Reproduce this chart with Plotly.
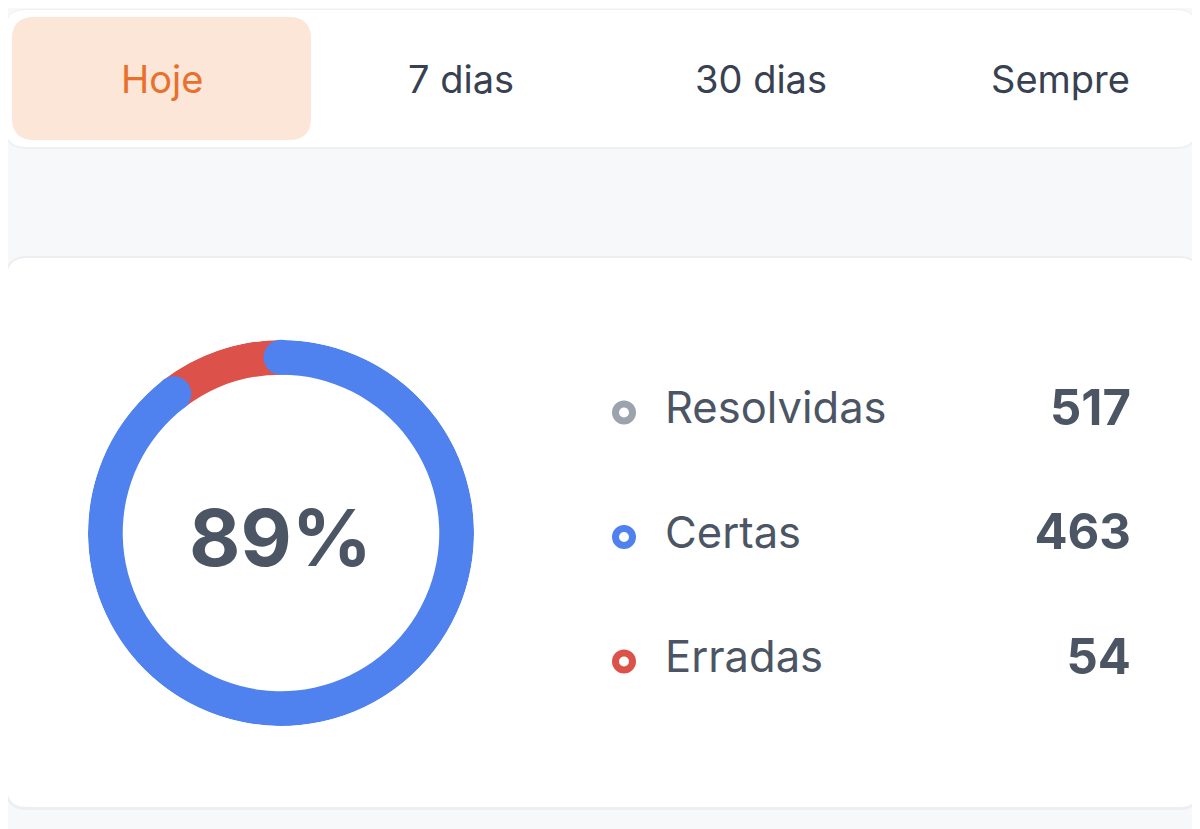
import math
import plotly.graph_objects as go

# page body has an 8px margin: the figure is drawn at (8, 8) in the window
OFF = 8
W, H = 1192, 821

# ---- data ----
tabs = ["Hoje", "7 dias", "30 dias", "Sempre"]
active_tab = "Hoje"
categories = ["Resolvidas", "Certas", "Erradas"]
counts = [517, 463, 54]
marker_colors = ["#9ca3af", "#4f82ee", "#dc514a"]

total = counts[0]
correct = counts[1]
wrong = counts[2]
pct_label = f"{math.floor(correct * 100 / total)}%"

BG = "#f7f8fa"
TEXT = "#4b5563"
TAB_TEXT = "#374151"
BLUE = marker_colors[1]
RED = marker_colors[2]


def px(x):
    return (x - OFF) / W


def py(y):
    return 1 - (y - OFF) / H


def rrect(x0, y0, x1, y1, r):
    rx, ry = r / W, r / H
    X0, X1 = px(x0), px(x1)
    Y0, Y1 = py(y0), py(y1)
    return (f"M {X0+rx},{Y0} L {X1-rx},{Y0} Q {X1},{Y0} {X1},{Y0-ry} "
            f"L {X1},{Y1+ry} Q {X1},{Y1} {X1-rx},{Y1} L {X0+rx},{Y1} "
            f"Q {X0},{Y1} {X0},{Y1+ry} L {X0},{Y0-ry} Q {X0},{Y0} {X0+rx},{Y0} Z")


fig = go.Figure()

# ---- donut ring (polar) ----
hole = 0.82
ang_ok = 360 * correct / total
ang_wrong = 360 * wrong / total
fig.add_trace(go.Barpolar(
    r=[1 - hole], base=[hole], theta=[ang_ok + ang_wrong / 2], width=[ang_wrong],
    marker=dict(color=RED, line=dict(width=0)), showlegend=False, hoverinfo="skip"))
fig.add_trace(go.Barpolar(
    r=[1 - hole], base=[hole], theta=[ang_ok / 2], width=[ang_ok],
    marker=dict(color=BLUE, line=dict(width=0)), showlegend=False, hoverinfo="skip"))
fig.add_trace(go.Scatterpolar(
    r=[(1 + hole) / 2] * 2, theta=[0, ang_ok], mode="markers",
    marker=dict(size=35, color=BLUE, line=dict(width=0)),
    showlegend=False, hoverinfo="skip"))

# ---- legend rows (cartesian) ----
fig.add_trace(go.Scatter(
    x=[624] * 3, y=categories, mode="markers",
    marker=dict(size=17, color="white", line=dict(width=7, color=marker_colors)),
    showlegend=False, hoverinfo="skip"))
fig.add_trace(go.Scatter(
    x=[665] * 3, y=categories, mode="text", text=categories,
    textposition="middle right",
    textfont=dict(family="Inter", size=43.5, color=TEXT),
    showlegend=False, hoverinfo="skip"))
fig.add_trace(go.Scatter(
    x=[1131] * 3, y=categories, mode="text", text=[f"<b>{c}</b>" for c in counts],
    textposition="middle left",
    textfont=dict(family="Inter", size=49, color=TEXT),
    showlegend=False, hoverinfo="skip"))

shapes = []
shapes.append(dict(type="path", path=rrect(4, 9, 1198, 149, 22), xref="paper", yref="paper",
                   fillcolor="#eef0f3", line=dict(width=0), layer="below"))
shapes.append(dict(type="path", path=rrect(5, 10, 1197, 147, 21), xref="paper", yref="paper",
                   fillcolor="white", line=dict(width=0), layer="below"))
shapes.append(dict(type="path", path=rrect(5, 256, 1201, 810, 22), xref="paper", yref="paper",
                   fillcolor="#eceef2", line=dict(width=0), layer="below"))
shapes.append(dict(type="path", path=rrect(7, 258, 1199, 807, 20), xref="paper", yref="paper",
                   fillcolor="white", line=dict(width=0), layer="below"))

annotations = []
tab_x0, tab_w = 12, 299.5
for i, t in enumerate(tabs):
    cx = tab_x0 + tab_w * (i + 0.5)
    is_active = t == active_tab
    if is_active:
        shapes.append(dict(type="path", path=rrect(tab_x0 + tab_w * i, 17, tab_x0 + tab_w * i + 299, 140, 22),
                           xref="paper", yref="paper", fillcolor="#fbe6d7",
                           line=dict(width=0), layer="below"))
    annotations.append(dict(
        x=px(cx), y=py(79), xref="paper", yref="paper", text=t, showarrow=False,
        xanchor="center", yanchor="middle",
        font=dict(family="Inter", size=38, color="#e8702c" if is_active else TAB_TEXT)))

annotations.append(dict(
    x=px(280), y=py(537), xref="paper", yref="paper", text=f"<b>{pct_label}</b>",
    showarrow=False, xanchor="center", yanchor="middle",
    font=dict(family="Inter", size=79, color=TEXT)))

row_h = 124.5
row_c = 537
fig.update_layout(
    width=W, height=H,
    margin=dict(l=0, r=0, t=0, b=0),
    paper_bgcolor=BG, plot_bgcolor="rgba(0,0,0,0)",
    polar=dict(
        domain=dict(x=[px(88), px(474)], y=[py(726), py(340)]),
        bgcolor="rgba(0,0,0,0)",
        angularaxis=dict(rotation=90, direction="clockwise", visible=False),
        radialaxis=dict(range=[0, 1], visible=False),
    ),
    xaxis=dict(range=[OFF, W + OFF], domain=[0, 1], visible=False, fixedrange=True),
    yaxis=dict(type="category", categoryarray=categories, range=[2.5, -0.5],
               domain=[py(row_c + 1.5 * row_h), py(row_c - 1.5 * row_h)],
               visible=False, fixedrange=True),
    shapes=shapes,
    annotations=annotations,
    showlegend=False,
)

fig.write_html("out.html")
